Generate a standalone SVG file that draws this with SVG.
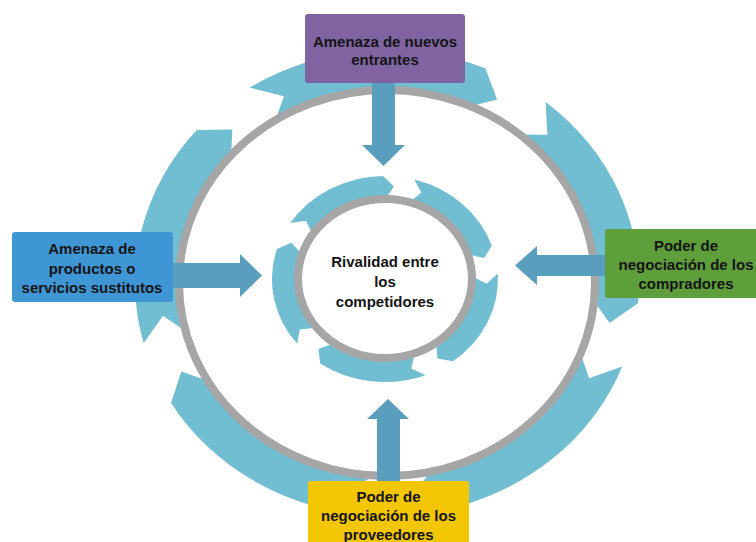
<svg xmlns="http://www.w3.org/2000/svg" width="756" height="542" viewBox="0 0 756 542">
<style>
.band{fill:#71BED3;}
.ring{fill:none;stroke:#A6A6A6;stroke-width:8;}
.conn{fill:#5A9EBE;}
.box{stroke:none;}
.t{font-family:"Liberation Sans",Arial,sans-serif;font-weight:bold;font-size:15px;fill:#141414;text-anchor:middle;}
</style>
<rect width="756" height="542" fill="#FFFFFF"/>
<g id="outer-cycle">
<path class="band" d="M249.8,87.6 A252,233 0 0 1 485.5,68.5 L497,99.6 L467.8,107.1 A206.6,191.1 0 0 0 274.5,122.8 L284,96.2 Z"/>
<path class="band" d="M545.6,101.9 A252,233 0 0 1 638.0,303.3 L609.6,323.0 L592.8,299.6 A206.6,191.1 0 0 0 517.1,134.5 L547.4,134.7 Z"/>
<path class="band" d="M622.3,366.5 A252,233 0 0 1 443.7,510.0 L414.6,491.1 L433.5,469.1 A206.6,191.1 0 0 0 579.9,351.5 L589.1,378.2 Z"/>
<path class="band" d="M373.8,515.7 A252,233 0 0 1 171.0,403.0 L181.4,371.6 L209.9,381.4 A206.6,191.1 0 0 0 376.2,473.8 L351.5,490.1 Z"/>
<path class="band" d="M143.6,343.3 A252,233 0 0 1 196.8,130.1 L232.3,129.6 L231.1,157.6 A206.6,191.1 0 0 0 187.4,332.4 L163.0,315.8 Z"/>
<ellipse class="ring" cx="387" cy="283" rx="208" ry="193"/>
</g>
<g id="inner-cycle">
<path class="band" d="M414.2,179.5 A113,103 0 0 1 491.8,245.5 L484.1,258.1 L465.1,253.8 A84.75,77.25 0 0 0 406.9,204.4 L421.4,192.5 Z"/>
<path class="band" d="M497.8,273.6 A113,103 0 0 1 453.0,361.3 L437.4,358.5 L436.0,340.7 A84.75,77.25 0 0 0 469.6,275.0 L486.6,283.8 Z"/>
<path class="band" d="M425.5,375.2 A113,103 0 0 1 320.2,363.4 L318.3,349.0 L336.4,342.3 A84.75,77.25 0 0 0 415.4,351.1 L411.3,368.5 Z"/>
<path class="band" d="M297.2,343.8 A113,103 0 0 1 276.9,248.9 L291.4,242.8 L304.0,256.4 A84.75,77.25 0 0 0 319.1,327.6 L299.7,329.5 Z"/>
<path class="band" d="M290.2,222.9 A113,103 0 0 1 383.0,176.0 L393.9,186.6 L383.5,201.8 A84.75,77.25 0 0 0 313.9,236.9 L306.0,220.7 Z"/>
</g>
<g id="center">
<ellipse cx="385" cy="278.5" rx="87" ry="79.5" fill="#FFFFFF" stroke="#A6A6A6" stroke-width="8"/>
<text class="t" x="385" y="267">Rivalidad entre</text>
<text class="t" x="385" y="287">los</text>
<text class="t" x="385" y="307">competidores</text>
</g>
<g id="connectors">
<polygon class="conn" points="372,83 395,83 395,145 405,145 383.5,166 362,145 372,145"/>
<polygon class="conn" points="173,263 240,263 240,254 262,275.5 240,297 240,288 173,288"/>
<polygon class="conn" points="605,255 537,255 537,246 515,265.5 537,285 537,276 605,276"/>
<polygon class="conn" points="377,481 377,419 367,419 388,399 409,419 400,419 400,481"/>
</g>
<g id="nuevos-entrantes">
<rect class="box" x="305" y="14" width="160" height="69" rx="3" fill="#8064A2"/>
<text class="t" x="385" y="47">Amenaza de nuevos</text>
<text class="t" x="385" y="65">entrantes</text>
</g>
<g id="sustitutos">
<rect class="box" x="12" y="232" width="161" height="70" rx="3" fill="#3F96D5"/>
<text class="t" x="92" y="254">Amenaza de</text>
<text class="t" x="92" y="274">productos o</text>
<text class="t" x="92" y="293">servicios sustitutos</text>
</g>
<g id="compradores">
<rect class="box" x="605" y="229" width="165" height="69" rx="3" fill="#5E9E3B"/>
<text class="t" x="686" y="251">Poder de</text>
<text class="t" x="686" y="270">negociación de los</text>
<text class="t" x="686" y="289">compradores</text>
</g>
<g id="proveedores">
<rect class="box" x="308" y="481" width="161" height="70" rx="3" fill="#F2C600"/>
<text class="t" x="388.5" y="502">Poder de</text>
<text class="t" x="388.5" y="521">negociación de los</text>
<text class="t" x="388.5" y="540">proveedores</text>
</g>
</svg>
